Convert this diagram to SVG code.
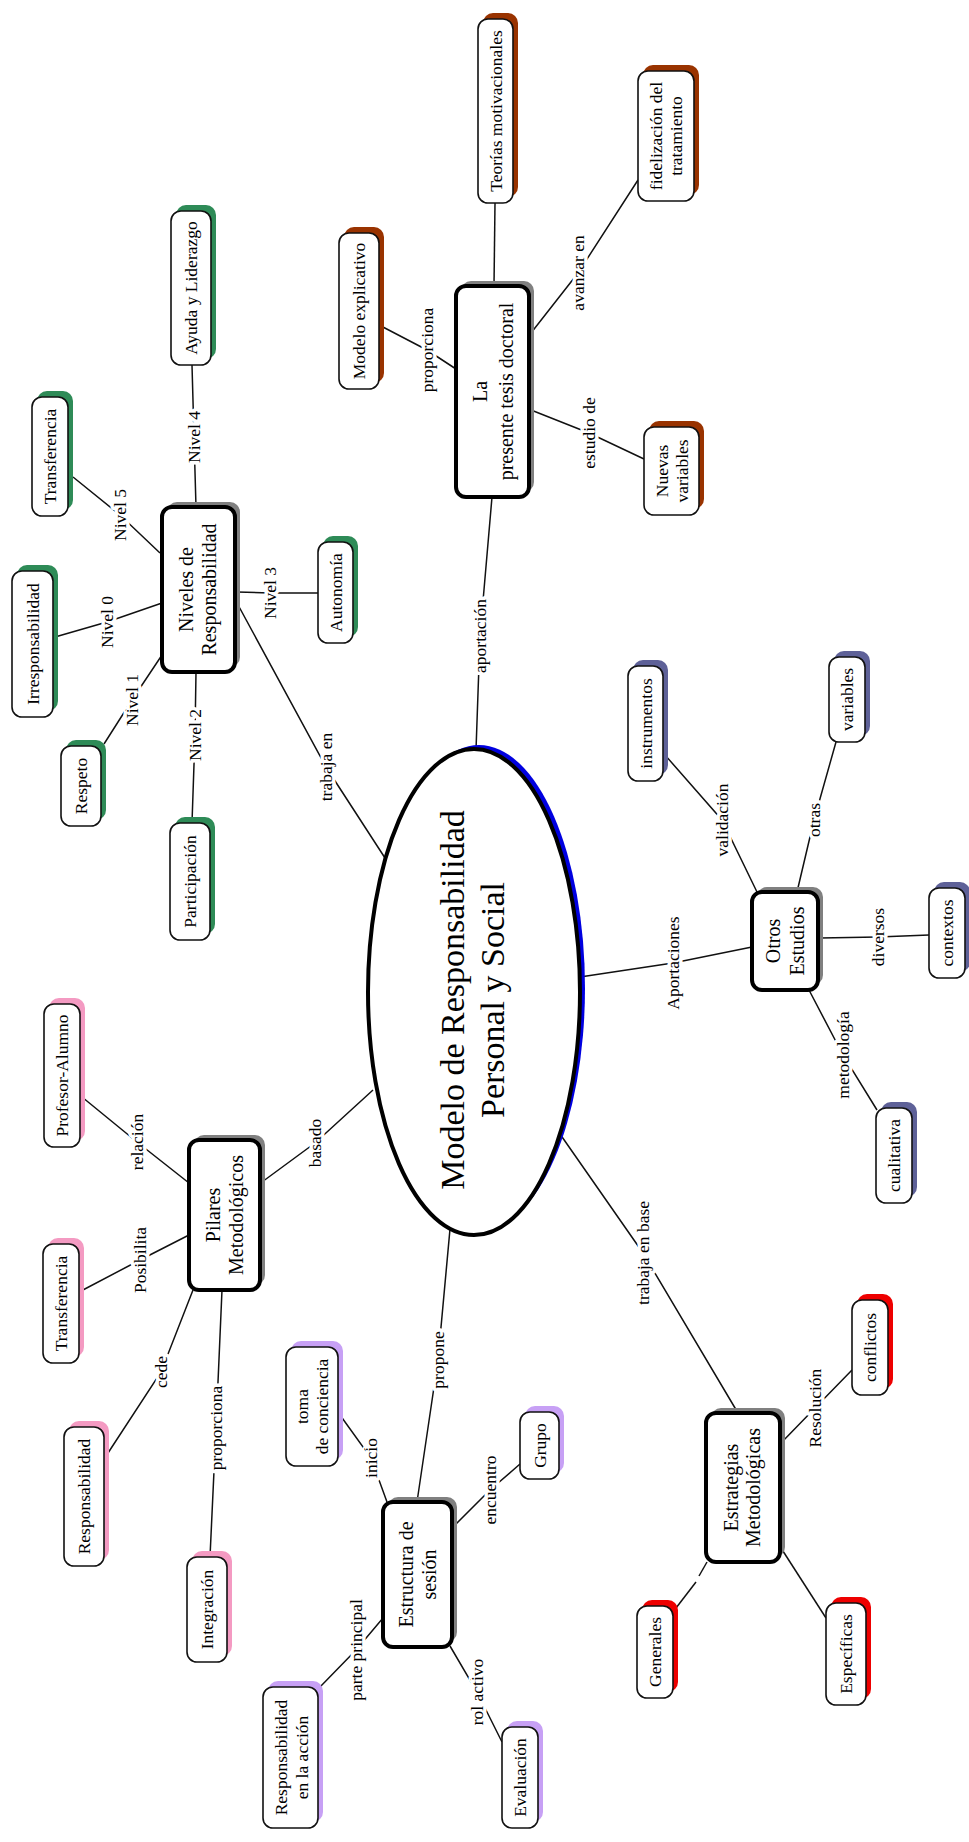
<svg xmlns="http://www.w3.org/2000/svg" width="969" height="1842" viewBox="0 0 969 1842">
<style>
text{font-family:"Liberation Serif","Times New Roman",serif;fill:#000;text-anchor:middle;dominant-baseline:central}
.nt{font-size:17.5px}
.mt{font-size:20px}
.et{font-size:34px}
.lbl{font-size:17.5px;stroke:#fff;stroke-width:7px;stroke-linejoin:round;paint-order:stroke}
.b{fill:#fff;stroke:#111;stroke-width:1.6}
.m .b{stroke:#000;stroke-width:4}
.sg{fill:#2E8B57}.sbr{fill:#993300}.sp{fill:#F49AC2}.su{fill:#C7A0F5}.sb{fill:#5E6198}.sr{fill:#EE0000}.sk{fill:#808080}
#connectors polyline{fill:none;stroke:#111;stroke-width:1.5}
</style>
<rect width="969" height="1842" fill="#fff"/>
<g id="connectors">
<polyline points="192,365 194,437 196,507"/>
<polyline points="73,477 120,515 160,553"/>
<polyline points="55,637 107,622 162,603"/>
<polyline points="104,744 132,700 162,655"/>
<polyline points="196,672 195,735 192,823"/>
<polyline points="237,592 270,593 318,593"/>
<polyline points="237,603 326,767 385,858"/>
<polyline points="495,203 494,286"/>
<polyline points="381,326 427,350 456,369"/>
<polyline points="638,180 578,273 531,333"/>
<polyline points="531,410 589,433 644,459"/>
<polyline points="492,497 480,636 476,750"/>
<polyline points="580,977 673,963 752,947"/>
<polyline points="665,755 722,820 757,892"/>
<polyline points="836,742 814,820 797,892"/>
<polyline points="820,938 878,937 929,935"/>
<polyline points="809,990 843,1055 877,1110"/>
<polyline points="560,1134 643,1253 738,1413"/>
<polyline points="782,1442 815,1408 852,1370"/>
<polyline points="707,1562 699,1576"/>
<polyline points="696,1582 676,1608"/>
<polyline points="781,1548 826,1618"/>
<polyline points="450,1229 438,1360 417,1502"/>
<polyline points="262,1182 315,1143 373,1090"/>
<polyline points="82,1097 137,1142 189,1183"/>
<polyline points="81,1291 140,1260 189,1235"/>
<polyline points="193,1290 161,1372 108,1453"/>
<polyline points="222,1290 216,1428 210,1557"/>
<polyline points="340,1415 371,1458 387,1502"/>
<polyline points="452,1528 490,1490 520,1464"/>
<polyline points="383,1618 356,1650 320,1687"/>
<polyline points="450,1646 477,1692 502,1742"/>
</g>
<g id="labels">
<text class="lbl" transform="translate(194 437) rotate(-90)">Nivel 4</text>
<text class="lbl" transform="translate(120 515) rotate(-90)">Nivel 5</text>
<text class="lbl" transform="translate(107 622) rotate(-90)">Nivel 0</text>
<text class="lbl" transform="translate(132 700) rotate(-90)">Nivel 1</text>
<text class="lbl" transform="translate(195 735) rotate(-90)">Nivel 2</text>
<text class="lbl" transform="translate(270 593) rotate(-90)">Nivel 3</text>
<text class="lbl" transform="translate(326 767) rotate(-90)">trabaja en</text>
<text class="lbl" transform="translate(427 350) rotate(-90)">proporciona</text>
<text class="lbl" transform="translate(578 273) rotate(-90)">avanzar en</text>
<text class="lbl" transform="translate(589 433) rotate(-90)">estudio de</text>
<text class="lbl" transform="translate(480 636) rotate(-90)">aportación</text>
<text class="lbl" transform="translate(673 963) rotate(-90)">Aportaciones</text>
<text class="lbl" transform="translate(722 820) rotate(-90)">validación</text>
<text class="lbl" transform="translate(814 820) rotate(-90)">otras</text>
<text class="lbl" transform="translate(878 937) rotate(-90)">diversos</text>
<text class="lbl" transform="translate(843 1055) rotate(-90)">metodología</text>
<text class="lbl" transform="translate(643 1253) rotate(-90)">trabaja en base</text>
<text class="lbl" transform="translate(815 1408) rotate(-90)">Resolución</text>
<text class="lbl" transform="translate(438 1360) rotate(-90)">propone</text>
<text class="lbl" transform="translate(315 1143) rotate(-90)">basado</text>
<text class="lbl" transform="translate(137 1142) rotate(-90)">relación</text>
<text class="lbl" transform="translate(140 1260) rotate(-90)">Posibilita</text>
<text class="lbl" transform="translate(161 1372) rotate(-90)">cede</text>
<text class="lbl" transform="translate(216 1428) rotate(-90)">proporciona</text>
<text class="lbl" transform="translate(371 1458) rotate(-90)">inicio</text>
<text class="lbl" transform="translate(490 1490) rotate(-90)">encuentro</text>
<text class="lbl" transform="translate(356 1650) rotate(-90)">parte principal</text>
<text class="lbl" transform="translate(477 1692) rotate(-90)">rol activo</text>
</g>
<g id="n-modelo-rps">
<ellipse cx="479" cy="988" rx="106" ry="243" fill="#0000E0"/>
<ellipse cx="474" cy="992" rx="106" ry="243" fill="#fff" stroke="#000" stroke-width="4"/>
<text class="et" transform="translate(474 1000) rotate(-90)"><tspan x="0" y="-22">Modelo de Responsabilidad</tspan><tspan x="0" y="18">Personal y Social</tspan></text>
</g>
<g id="n-niveles" class="m">
<rect class="sk" x="167" y="502" width="73" height="165" rx="10"/>
<rect class="b" x="162" y="507" width="73" height="165" rx="10"/>
<text class="mt" transform="translate(197 589.5) rotate(-90)"><tspan x="0" y="-11.5">Niveles de</tspan><tspan x="0" y="11.5">Responsabilidad</tspan></text>
</g>
<g id="n-ayuda" class="n">
<rect class="sg" x="176" y="205" width="40" height="154" rx="10"/>
<rect class="b" x="171" y="211" width="40" height="154" rx="10"/>
<text class="nt" transform="translate(191 288) rotate(-90)">Ayuda y Liderazgo</text>
</g>
<g id="n-transferencia-n5" class="n">
<rect class="sg" x="37" y="391" width="36" height="119" rx="10"/>
<rect class="b" x="32" y="397" width="36" height="119" rx="10"/>
<text class="nt" transform="translate(50 456.5) rotate(-90)">Transferencia</text>
</g>
<g id="n-irresponsabilidad" class="n">
<rect class="sg" x="17" y="565" width="41" height="146" rx="10"/>
<rect class="b" x="12" y="571" width="41" height="146" rx="10"/>
<text class="nt" transform="translate(32.5 644) rotate(-90)">Irresponsabilidad</text>
</g>
<g id="n-respeto" class="n">
<rect class="sg" x="66" y="740" width="40" height="80" rx="10"/>
<rect class="b" x="61" y="746" width="40" height="80" rx="10"/>
<text class="nt" transform="translate(81 786) rotate(-90)">Respeto</text>
</g>
<g id="n-participacion" class="n">
<rect class="sg" x="175" y="817" width="40" height="117" rx="10"/>
<rect class="b" x="170" y="823" width="40" height="117" rx="10"/>
<text class="nt" transform="translate(190 881.5) rotate(-90)">Participación</text>
</g>
<g id="n-autonomia" class="n">
<rect class="sg" x="323" y="536" width="35" height="101" rx="10"/>
<rect class="b" x="318" y="542" width="35" height="101" rx="10"/>
<text class="nt" transform="translate(335.5 592.5) rotate(-90)">Autonomía</text>
</g>
<g id="n-tesis" class="m">
<rect class="sk" x="461" y="281" width="73" height="211" rx="10"/>
<rect class="b" x="456" y="286" width="73" height="211" rx="10"/>
<text class="mt" transform="translate(492.5 391.5) rotate(-90)"><tspan x="0" y="-13">La</tspan><tspan x="0" y="13">presente tesis doctoral</tspan></text>
</g>
<g id="n-modelo-explicativo" class="n">
<rect class="sbr" x="344" y="227" width="40" height="156" rx="10"/>
<rect class="b" x="339" y="233" width="40" height="156" rx="10"/>
<text class="nt" transform="translate(359 311) rotate(-90)">Modelo explicativo</text>
</g>
<g id="n-teorias" class="n">
<rect class="sbr" x="483" y="13" width="35" height="184" rx="10"/>
<rect class="b" x="478" y="19" width="35" height="184" rx="10"/>
<text class="nt" transform="translate(495.5 111) rotate(-90)">Teorías motivacionales</text>
</g>
<g id="n-fidelizacion" class="n">
<rect class="sbr" x="643" y="65" width="56" height="130" rx="10"/>
<rect class="b" x="638" y="71" width="56" height="130" rx="10"/>
<text class="nt" transform="translate(666 136) rotate(-90)"><tspan x="0" y="-10">fidelización del</tspan><tspan x="0" y="10">tratamiento</tspan></text>
</g>
<g id="n-nuevas-variables" class="n">
<rect class="sbr" x="649" y="421" width="55" height="88" rx="10"/>
<rect class="b" x="644" y="427" width="55" height="88" rx="10"/>
<text class="nt" transform="translate(671.5 471) rotate(-90)"><tspan x="0" y="-10">Nuevas</tspan><tspan x="0" y="10">variables</tspan></text>
</g>
<g id="n-otros" class="m">
<rect class="sk" x="757" y="887" width="66" height="98" rx="10"/>
<rect class="b" x="752" y="892" width="66" height="98" rx="10"/>
<text class="mt" transform="translate(785 941) rotate(-90)"><tspan x="0" y="-12">Otros</tspan><tspan x="0" y="12">Estudios</tspan></text>
</g>
<g id="n-instrumentos" class="n">
<rect class="sb" x="633" y="660" width="35" height="115" rx="10"/>
<rect class="b" x="628" y="666" width="35" height="115" rx="10"/>
<text class="nt" transform="translate(645.5 723.5) rotate(-90)">instrumentos</text>
</g>
<g id="n-variables" class="n">
<rect class="sb" x="834" y="651" width="36" height="85" rx="10"/>
<rect class="b" x="829" y="657" width="36" height="85" rx="10"/>
<text class="nt" transform="translate(847 699.5) rotate(-90)">variables</text>
</g>
<g id="n-contextos" class="n">
<rect class="sb" x="934" y="882" width="36" height="90" rx="10"/>
<rect class="b" x="929" y="888" width="36" height="90" rx="10"/>
<text class="nt" transform="translate(947 933) rotate(-90)">contextos</text>
</g>
<g id="n-cualitativa" class="n">
<rect class="sb" x="881" y="1102" width="36" height="95" rx="10"/>
<rect class="b" x="876" y="1108" width="36" height="95" rx="10"/>
<text class="nt" transform="translate(894 1155.5) rotate(-90)">cualitativa</text>
</g>
<g id="n-estrategias" class="m">
<rect class="sk" x="711" y="1408" width="74" height="149" rx="10"/>
<rect class="b" x="706" y="1413" width="74" height="149" rx="10"/>
<text class="mt" transform="translate(742 1487.5) rotate(-90)"><tspan x="0" y="-11">Estrategias</tspan><tspan x="0" y="11">Metodológicas</tspan></text>
</g>
<g id="n-conflictos" class="n">
<rect class="sr" x="857" y="1294" width="36" height="95" rx="10"/>
<rect class="b" x="852" y="1300" width="36" height="95" rx="10"/>
<text class="nt" transform="translate(870 1347.5) rotate(-90)">conflictos</text>
</g>
<g id="n-generales" class="n">
<rect class="sr" x="642" y="1600" width="36" height="92" rx="10"/>
<rect class="b" x="637" y="1606" width="36" height="92" rx="10"/>
<text class="nt" transform="translate(655 1652) rotate(-90)">Generales</text>
</g>
<g id="n-especificas" class="n">
<rect class="sr" x="831" y="1597" width="40" height="102" rx="10"/>
<rect class="b" x="826" y="1603" width="40" height="102" rx="10"/>
<text class="nt" transform="translate(846 1654) rotate(-90)">Específicas</text>
</g>
<g id="n-pilares" class="m">
<rect class="sk" x="194" y="1135" width="71" height="150" rx="10"/>
<rect class="b" x="189" y="1140" width="71" height="150" rx="10"/>
<text class="mt" transform="translate(224 1215) rotate(-90)"><tspan x="0" y="-11.5">Pilares</tspan><tspan x="0" y="11.5">Metodológicos</tspan></text>
</g>
<g id="n-profesor-alumno" class="n">
<rect class="sp" x="49" y="998" width="36" height="143" rx="10"/>
<rect class="b" x="44" y="1004" width="36" height="143" rx="10"/>
<text class="nt" transform="translate(62 1075.5) rotate(-90)">Profesor-Alumno</text>
</g>
<g id="n-transferencia-p" class="n">
<rect class="sp" x="48" y="1238" width="36" height="119" rx="10"/>
<rect class="b" x="43" y="1244" width="36" height="119" rx="10"/>
<text class="nt" transform="translate(61 1303.5) rotate(-90)">Transferencia</text>
</g>
<g id="n-responsabilidad" class="n">
<rect class="sp" x="69" y="1421" width="40" height="139" rx="10"/>
<rect class="b" x="64" y="1427" width="40" height="139" rx="10"/>
<text class="nt" transform="translate(84 1496.5) rotate(-90)">Responsabilidad</text>
</g>
<g id="n-integracion" class="n">
<rect class="sp" x="192" y="1551" width="40" height="105" rx="10"/>
<rect class="b" x="187" y="1557" width="40" height="105" rx="10"/>
<text class="nt" transform="translate(207 1609.5) rotate(-90)">Integración</text>
</g>
<g id="n-estructura" class="m">
<rect class="sk" x="388" y="1497" width="69" height="145" rx="10"/>
<rect class="b" x="383" y="1502" width="69" height="145" rx="10"/>
<text class="mt" transform="translate(417 1574.5) rotate(-90)"><tspan x="0" y="-11.5">Estructura de</tspan><tspan x="0" y="11.5">sesión</tspan></text>
</g>
<g id="n-toma" class="n">
<rect class="su" x="291" y="1341" width="52" height="119" rx="10"/>
<rect class="b" x="286" y="1347" width="52" height="119" rx="10"/>
<text class="nt" transform="translate(312 1406.5) rotate(-90)"><tspan x="0" y="-10">toma</tspan><tspan x="0" y="10">de conciencia</tspan></text>
</g>
<g id="n-resp-accion" class="n">
<rect class="su" x="268" y="1681" width="55" height="141" rx="10"/>
<rect class="b" x="263" y="1687" width="55" height="141" rx="10"/>
<text class="nt" transform="translate(291 1757.5) rotate(-90)"><tspan x="0" y="-10.5">Responsabilidad</tspan><tspan x="0" y="10.5">en la acción</tspan></text>
</g>
<g id="n-grupo" class="n">
<rect class="su" x="525" y="1406" width="39" height="67" rx="10"/>
<rect class="b" x="520" y="1412" width="39" height="67" rx="10"/>
<text class="nt" transform="translate(539.5 1445.5) rotate(-90)">Grupo</text>
</g>
<g id="n-evaluacion" class="n">
<rect class="su" x="507" y="1721" width="36" height="101" rx="10"/>
<rect class="b" x="502" y="1727" width="36" height="101" rx="10"/>
<text class="nt" transform="translate(520 1777.5) rotate(-90)">Evaluación</text>
</g>
</svg>
